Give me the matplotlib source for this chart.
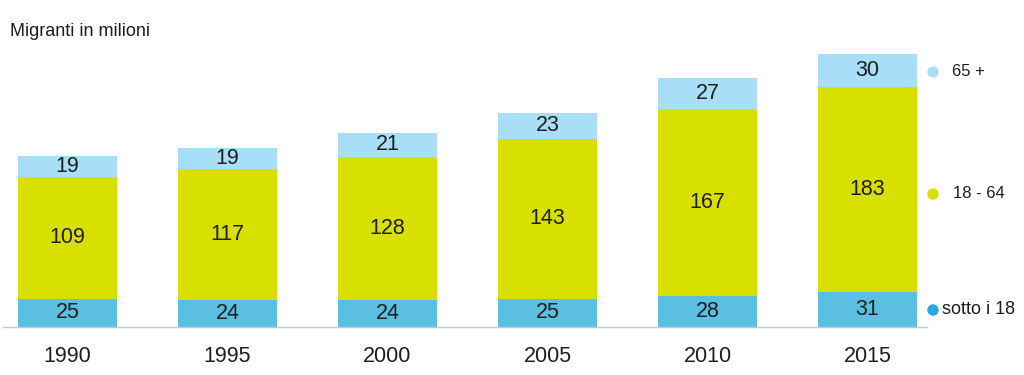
import matplotlib
matplotlib.use('Agg')
import matplotlib.pyplot as plt
import numpy as np

years = ['1990', '1995', '2000', '2005', '2010', '2015']
under18 = [25, 24, 24, 25, 28, 31]
adults = [109, 117, 128, 143, 167, 183]
over65 = [19, 19, 21, 23, 27, 30]

legend_labels = ['65 +', '18 - 64', 'sotto i 18']

c_top = '#a8def6'
c_mid = '#d8e000'
c_bot = '#5bbfe1'
c_dot_bot = '#27aae1'
txt = '#1e1e1e'

plt.rcParams['font.family'] = ['Liberation Sans', 'DejaVu Sans']

W, H = 1024, 375
fig = plt.figure(figsize=(W / 100, H / 100), dpi=100)
fig.set_facecolor('w')

# axes placed in pixel terms: baseline at y=327, left 3, right 927
ax = fig.add_axes([3 / W, 48 / H, (927 - 3) / W, (327 - 40) / H])
x = np.arange(len(years))
bot = np.array(under18)
mid = np.array(adults)
top = np.array(over65)

ax.bar(x, bot, width=0.62, color=c_bot)
ax.bar(x, mid, width=0.62, bottom=bot, color=c_mid)
ax.bar(x, top, width=0.62, bottom=bot + mid, color=c_top)

for i in x:
    ax.text(i, bot[i] / 2, str(bot[i]), ha='center', va='center',
            fontsize=15.5, color=txt)
    ax.text(i, bot[i] + mid[i] / 2, str(mid[i]), ha='center', va='center',
            fontsize=15.5, color=txt)
    ax.text(i, bot[i] + mid[i] + top[i] / 2, str(top[i]), ha='center',
            va='center', fontsize=15.5, color=txt)

ax.set_xlim(-0.403, 5.372)
ax.set_ylim(0, 287 / 1.12)
ax.set_xticks(x)
ax.set_xticklabels(years, fontsize=15.5, color=txt)
ax.tick_params(axis='x', length=0, pad=14)
ax.set_yticks([])
for s in ['top', 'right', 'left']:
    ax.spines[s].set_visible(False)
ax.spines['bottom'].set_color('#c8c8c8')
ax.spines['bottom'].set_linewidth(1)

fig.text(10 / W, 1 - 32 / H, 'Migranti in milioni', fontsize=13,
         color=txt, va='center')

# legend on the right
dots = [(933, 72, c_top), (933, 194, c_mid), (933, 310, c_dot_bot)]
text_x = [952, 953, 942]
sizes = [12, 12, 13]
for (dx, dy, c), tx, lab, fs in zip(dots, text_x, legend_labels, sizes):
    fig.patches.append(plt.Circle((dx, H - dy), 5, color=c,
                                  transform=None, figure=fig))
    fig.text(tx / W, 1 - dy / H, lab, fontsize=fs, color=txt, va='center')

plt.savefig('out.png', dpi=100)
